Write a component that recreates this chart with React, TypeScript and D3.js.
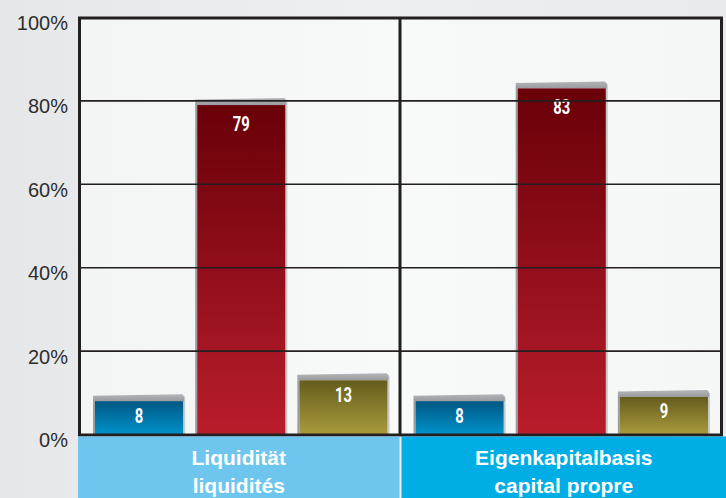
import React from "react";
import * as d3 from "d3";

const groups = ["Liquidität\nliquidités", "Eigenkapitalbasis\ncapital propre"];
const series = ["blue", "red", "olive"];
const valuesBlue = [8, 8];
const valuesRed = [79, 83];
const valuesOlive = [13, 9];
const yTicks = [0, 20, 40, 60, 80, 100];
const tickLabels = ["0%", "20%", "40%", "60%", "80%", "100%"];

const W = 726;
const H = 498;
const left = 80;
const right = 721;
const top = 17.5;
const bottom = 434.5;

const gradients: Record<string, [string, string]> = {
  blue: ["#005783", "#0192CC"],
  red: ["#690008", "#B91D2C"],
  olive: ["#655C1D", "#A99B3C"],
};
const bandColors = ["#6EC6EF", "#00ADE4"];

export default function App() {
  const y = d3.scaleLinear().domain([0, 100]).range([bottom, top]);
  const gx = d3.scaleBand<string>().domain(groups).range([left, right]).padding(0);
  const valuesBySeries: Record<string, number[]> = {
    blue: valuesBlue,
    red: valuesRed,
    olive: valuesOlive,
  };

  return (
    <svg width={W} height={H} style={{ position: "absolute", left: 0, top: 0 }}>
      <defs>
        <linearGradient id="bg" x1="0" y1="0" x2="1" y2="0">
          <stop offset="0" stopColor="#E6E7E9" />
          <stop offset="0.5" stopColor="#EEEFF0" />
          <stop offset="1" stopColor="#E9EAEC" />
        </linearGradient>
        <linearGradient id="plotbg" x1="0" y1="0" x2="1" y2="0">
          <stop offset="0" stopColor="#F3F4F4" />
          <stop offset="0.5" stopColor="#F8F9F9" />
          <stop offset="1" stopColor="#F5F6F6" />
        </linearGradient>
        {series.map((s) => (
          <linearGradient key={s} id={`g-${s}`} x1="0" y1="0" x2="0" y2="1">
            <stop offset="0" stopColor={gradients[s][0]} />
            <stop offset="1" stopColor={gradients[s][1]} />
          </linearGradient>
        ))}
        <linearGradient id="topg" x1="0" y1="0" x2="0" y2="1">
          <stop offset="0" stopColor="#B4B5B8" />
          <stop offset="1" stopColor="#9A9B9E" />
        </linearGradient>
      </defs>
      <rect x={0} y={0} width={W} height={H} fill="url(#bg)" />
      <rect x={left} y={top} width={right - left} height={bottom - top} fill="url(#plotbg)" />

      {groups.map((g, gi) => {
        const x0 = gx(g)!;
        const inner = d3
          .scaleBand<string>()
          .domain(series)
          .range([x0 + 13, x0 + gx.bandwidth() - 12])
          .paddingInner(0.108)
          .paddingOuter(0);
        return (
          <g key={g}>
            {series.map((s) => {
              const v = valuesBySeries[s][gi];
              const bx = inner(s)!;
              const bw = inner.bandwidth();
              const fy = y(v);
              const fx = bx + 2;
              const tx = fx + (bw - 3) / 2;
              const ty = fy + (v > 50 ? 26 : 21.5);
              return (
                <g key={s}>
                  <rect x={bx + bw - 1} y={fy - 4} width={2} height={bottom - fy + 4} fill="#C8C9CB" />
                  <polygon
                    points={`${bx},${fy} ${bx},${fy - 5.5} ${bx + bw - 2},${fy - 7} ${bx + bw},${fy - 5} ${bx + bw},${fy}`}
                    fill="url(#topg)"
                  />
                  <rect x={bx} y={fy} width={2} height={bottom - fy} fill="#9C9DA0" />
                  <rect x={fx} y={fy} width={bw - 3} height={bottom - fy} fill={`url(#g-${s})`} />
                  <text
                    transform={`translate(${tx},${ty}) scale(0.76,1)`}
                    textAnchor="middle"
                    fill="#FFFFFF"
                    fontFamily="Roboto, sans-serif"
                    fontWeight="bold"
                    fontSize={19.5}
                  >
                    {v}
                  </text>
                </g>
              );
            })}
          </g>
        );
      })}

      {yTicks.slice(1, -1).map((t) => (
        <line key={t} x1={left} x2={right} y1={y(t)} y2={y(t)} stroke="#231F20" strokeWidth={1.6} />
      ))}
      {yTicks.map((t, i) => (
        <text
          key={t}
          x={68}
          y={y(t) + 12.5}
          textAnchor="end"
          fill="#2E2E2E"
          fontFamily="'Liberation Sans', Arial, sans-serif"
          fontSize={20}
        >
          {tickLabels[i]}
        </text>
      ))}

      <rect x={left - 0.5} y={top + 0.5} width={right - left + 1} height={bottom - top} fill="none" stroke="#231F20" strokeWidth={3} />
      <line x1={gx(groups[1])! - 0.5} x2={gx(groups[1])! - 0.5} y1={top} y2={bottom} stroke="#231F20" strokeWidth={3} />

      {groups.map((g, gi) => {
        const x0 = gx(g)!;
        const bx0 = gi === 0 ? 78 : x0 + 1;
        const bx1 = gi === 0 ? x0 + gx.bandwidth() - 1 : W;
        const lines = g.split("\n");
        return (
          <g key={g}>
            <rect x={bx0} y={bottom + 2} width={bx1 - bx0} height={H - bottom - 2} fill={bandColors[gi]} />
            {lines.map((l, li) => (
              <text
                key={li}
                x={(bx0 + bx1) / 2}
                y={465 + li * 28}
                textAnchor="middle"
                fill="#FFFFFF"
                fontFamily="'Liberation Sans', Arial, sans-serif"
                fontWeight="bold"
                fontSize={21}
              >
                {l}
              </text>
            ))}
          </g>
        );
      })}
    </svg>
  );
}
